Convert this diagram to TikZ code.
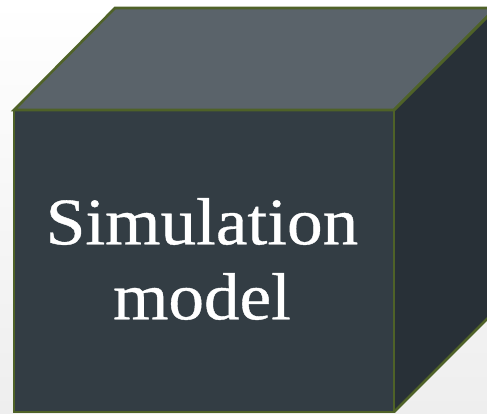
\documentclass[tikz,border=0pt]{standalone}
\usepackage{fontspec}
\setmainfont{Liberation Serif}
\newfontfamily\labelfont[FakeBold=0.6, FakeStretch=1.07]{Liberation Serif}
\definecolor{bgtop}{HTML}{FFFFFF}
\definecolor{bgbot}{HTML}{EEEEEE}
\definecolor{topface}{HTML}{5A636A}
\definecolor{frontface}{HTML}{333D44}
\definecolor{sideface}{HTML}{283037}
\definecolor{edge}{HTML}{4F6228}
\tikzset{face/.style={draw=edge, line width=2.6pt, line join=miter}}
\begin{document}
\begin{tikzpicture}[x=1pt,y=-1pt]
\useasboundingbox (0,0) rectangle (487,413);
\shade[top color=bgtop, bottom color=bgbot] (0,0) rectangle (487,413);
\begin{scope}
\clip (0,0) rectangle (487,413);
\coordinate (fa) at (14,110);
\coordinate (fb) at (394,110);
\coordinate (fc) at (394,412);
\coordinate (fd) at (14,412);
\coordinate (ta) at (115,8);
\coordinate (tb) at (496,8);
\coordinate (tc) at (496,310);
\fill[topface] (fa) -- (ta) -- (tb) -- (fb) -- cycle;
\fill[sideface] (fb) -- (tb) -- (tc) -- (fc) -- cycle;
\fill[frontface] (fa) -- (fb) -- (fc) -- (fd) -- cycle;
\draw[face] (fa) -- (ta) -- (tb) -- (fb) -- cycle;
\draw[face] (fb) -- (tb) -- (tc) -- (fc);
\draw[face] (fa) -- (fb) -- (fc) -- (fd) -- cycle;
\end{scope}
\node[text=white, align=center, font=\labelfont\fontsize{66.5}{75}\selectfont] (label) at (202,259) {Simulation\\model};
\end{tikzpicture}
\end{document}
